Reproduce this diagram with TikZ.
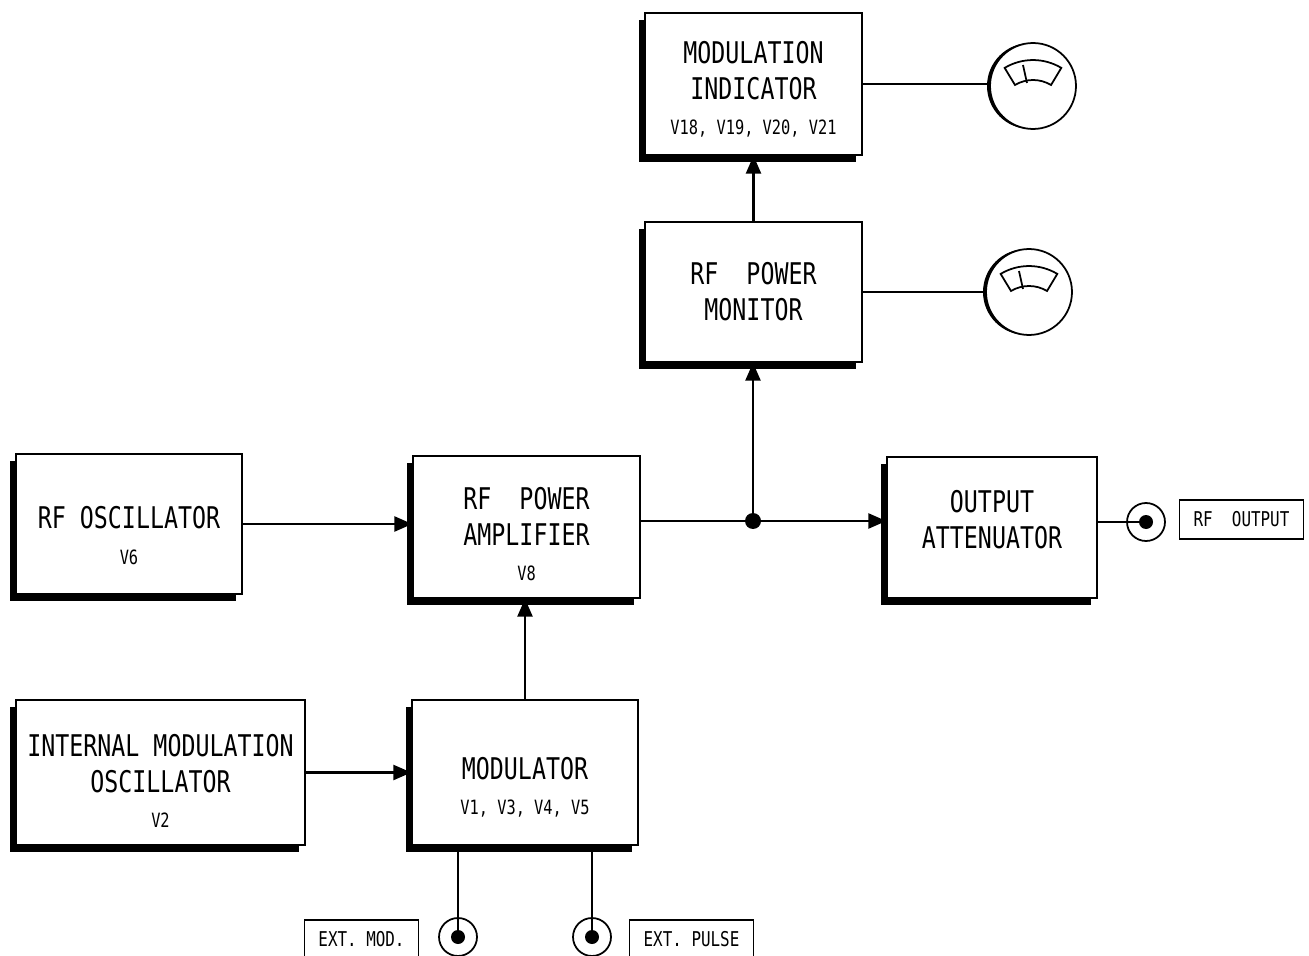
\documentclass[tikz,border=0pt]{standalone}
\usepackage{fontspec}
\usetikzlibrary{arrows.meta,shadows}
\newfontfamily\lettering[FakeStretch=0.78]{DejaVu Sans Mono}
\newcommand\mainsize{\fontsize{17}{20.4}\selectfont}
\newcommand\subsize{\fontsize{11.2}{13}\selectfont}
\newcommand\tagsize{\fontsize{11.6}{14}\selectfont}
\newcommand\blocktext[2]{\raisebox{#1}[0pt][0pt]{\begin{tabular}{@{}c@{}}#2\end{tabular}}}

\begin{document}
\begin{tikzpicture}[x=0.02cm, y=0.02cm,
    blk/.style={draw, line width=0.8pt, fill=white, inner sep=0pt, font=\lettering\mainsize,
        drop shadow={shadow xshift=-0.12cm, shadow yshift=-0.14cm, fill=black, opacity=1}},
    meter/.style={circle, draw, line width=1pt, fill=white, minimum size=1.72cm,
        drop shadow={shadow xshift=-0.06cm, shadow yshift=0cm, fill=black, opacity=1}},
    jack/.style={circle, draw, line width=1pt, minimum size=0.76cm,
        path picture={\fill (path picture bounding box.center) circle (7);}},
    tag/.style={draw, line width=0.8pt, inner xsep=0.28cm, inner ysep=0pt, minimum height=0.78cm, font=\lettering\tagsize},
    conn/.style={line width=1.4pt},
    arr/.style={conn, -{Triangle[length=0.36cm, width=0.3cm]}}]
    \useasboundingbox (0,0) rectangle (1309,-956);
    % Draw blocks
    \node[blk, minimum width=4.52cm, minimum height=2.8cm] (osc) at (129,-524)
        {\blocktext{-0.46cm}{RF OSCILLATOR\\{\subsize V6}}};
    \node[blk, minimum width=4.54cm, minimum height=2.84cm] (pa) at (526.5,-527)
        {\blocktext{-0.37cm}{RF~~POWER\\AMPLIFIER\\{\subsize V8}}};
    \node[blk, minimum width=4.34cm, minimum height=2.84cm] (mi) at (753.5,-84)
        {\blocktext{-0.31cm}{MODULATION\\INDICATOR\\{\subsize V18, V19, V20, V21}}};
    \node[blk, minimum width=4.34cm, minimum height=2.8cm] (mon) at (753.5,-292)
        {\blocktext{-0.22cm}{RF~~POWER\\MONITOR}};
    \node[blk, minimum width=4.2cm, minimum height=2.82cm] (att) at (992,-527.5)
        {\blocktext{-0.06cm}{OUTPUT\\ATTENUATOR}};
    \node[blk, minimum width=4.52cm, minimum height=2.9cm] (modu) at (525,-772.5)
        {\blocktext{-0.5cm}{MODULATOR\\{\subsize V1, V3, V4, V5}}};
    \node[blk, minimum width=5.78cm, minimum height=2.9cm] (imo) at (160.5,-772.5)
        {\blocktext{-0.4cm}{INTERNAL MODULATION\\OSCILLATOR\\{\subsize V2}}};
    % Draw meters
    \node[meter] (m1) at (1033,-86) {};
    \node[meter] (m2) at (1029,-292) {};
    \foreach \m in {m1,m2} {
        \begin{scope}[shift={(\m.center)}, line width=1pt]
            \draw (28.3,18.1) arc[start angle=59, end angle=121, radius=55]
                -- (-18,1) arc[start angle=121, end angle=59, radius=35] -- cycle;
            \draw (-6,3) -- (-10,21);
        \end{scope}
    }
    % Draw jacks and tags
    \node[jack] (j1) at (458,-937) {};
    \node[jack] (j2) at (592,-937) {};
    \node[jack] (j3) at (1146,-522) {};
    \node[tag] (rfout) at (1241.5,-519.5) {RF~~OUTPUT};
    \node[tag] (extmod) at (361.5,-939.5) {EXT. MOD.};
    \node[tag] (extpulse) at (691.5,-939.5) {EXT. PULSE};
    % Draw connections
    \node[circle, fill, inner sep=0pt, minimum size=0.32cm] (jn) at (753,-521) {};
    \draw[arr] (osc.east) -- (osc.east -| pa.west);
    \draw[conn] (jn -| pa.east) -- (jn);
    \draw[arr] (jn) -- (jn -| att.west);
    \draw[arr] (jn) -- (jn |- mon.south);
    \draw[arr] (mon.north) -- (mi.south);
    \draw[conn] (mi.east) -- (mi.east -| m1.west);
    \draw[conn] (mon.east) -- (mon.east -| m2.west);
    \draw[arr] (modu.north) -- (modu.north |- pa.south);
    \draw[arr] (imo.east) -- (imo.east -| modu.west);
    \draw[conn] (j1 |- modu.south) -- (j1.center);
    \draw[conn] (j2 |- modu.south) -- (j2.center);
    \draw[conn] (j3 -| att.east) -- (j3.center);
\end{tikzpicture}
\end{document}
